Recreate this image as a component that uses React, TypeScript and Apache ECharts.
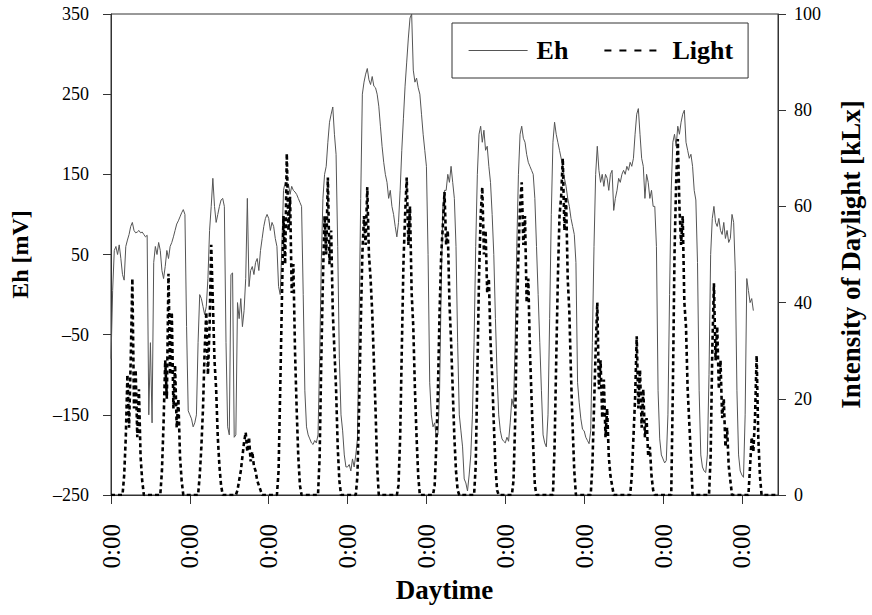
import { useEffect, useRef } from "react";
import * as echarts from "echarts";

// Hourly readings, one row per day (hour 0 = 0:00 of the first day).
const ehValues: number[] = [
  -80, 5, 55, 60, 50, 62, 45, 25, 18, 60, 68, 75, 85, 90, 80, 77, 78, 80, 77, 78, 75, 72, 74, -150,
  -60, -160, 40, 60, 50, 65, 55, 30, 20, 35, 55, 45, 60, 65, 72, 80, 88, 92, 97, 102, 106, 100, -40, -145,
  -150, -155, -165, -160, -150, -60, 0, -5, -15, -25, -15, 20, 80, 110, 145, 110, 90, 100, 110, 118, 120, 110, -60, -165,
  -175, 25, 27, -178, -175, -10, -30, -5, -40, -20, 20, 120, 10, 30, 35, 25, 40, 45, 30, 55, 70, 85, 95, 100,
  95, 80, 90, 85, 70, 60, 10, 0, 60, 130, 140, 135, 138, 125, 135, 130, 128, 125, 120, 115, 110, 0, -120, -165,
  -175, -180, -185, -187, -182, -185, -175, -80, 40, 120, 150, 160, 190, 215, 225, 234, 200, 175, 60, -80, -150, -170, -200, -215,
  -215, -212, -220, -205, -215, -200, -180, -40, 120, 250, 265, 275, 282, 268, 262, 272, 260, 258, 250, 235, 210, 185, 165, 150,
  140, 120, 130, 110, 100, 85, 72, 90, 130, 180, 220, 260, 290, 320, 345, 350, 280, 265, 270, 258, 250, 225, 200, 180,
  160, 50, -110, -150, -165, -160, -178, -175, -120, 10, 110, 130, 130, 150, 140, 160, 140, 120, 60, -60, -150, -170, -190, -230,
  -235, -245, -225, -200, -150, -60, 60, 150, 200, 210, 190, 205, 180, 185, 160, 140, 100, 50, -30, -100, -150, -170, -180, -183,
  -185, -178, -183, -160, -130, -140, -60, 60, 150, 200, 210, 195, 190, 175, 165, 160, 155, 150, 120, 60, 0, -60, -120, -175,
  -185, -190, -150, -30, 100, 190, 215, 200, 190, 180, 170, 160, 145, 135, 120, 110, 95, 85, 75, 40, -110, -135, -155, -168,
  -170, -178, -182, -186, -170, -60, 60, 150, 185, 155, 140, 150, 135, 150, 145, 130, 150, 155, 105, 120, 130, 145, 140, 150,
  155, 150, 160, 155, 165, 160, 170, 200, 225, 232, 200, 170, 160, 120, 150, 140, 120, 130, 110, 110, 60, -120, -180, -200,
  -205, -210, -207, -150, 0, 130, 190, 200, 185, 210, 200, 215, 225, 230, 190, 180, 170, 175, 160, 130, 118, 40, -120, -200,
  -215, -220, -222, -200, -100, 50, 95, 110, 90, 85, 95, 80, 75, 90, 70, 80, 65, 70, 100, 90, 30, -120, -200, -220,
  -225, -228, -150, 20, 5, -10, -5, -20,
];

const lightValues: number[] = [
  0, 0, 0, 0, 0, 0, 0, 0, 4, 12, 25, 14, 28, 45, 18, 26, 12, 22, 8, 3, 0, 0, 0, 0,
  0, 0, 0, 0, 0, 0, 0, 5, 15, 28, 20, 46, 25, 38, 18, 27, 14, 20, 8, 3, 0, 0, 0, 0,
  0, 0, 0, 0, 0, 0, 4, 10, 18, 30, 38, 25, 35, 52, 40, 28, 22, 12, 6, 2, 0, 0, 0, 0,
  0, 0, 0, 0, 0, 1, 3, 5, 8, 11, 13, 9, 12, 7, 9, 6, 5, 3, 2, 1, 0, 0, 0, 0,
  0, 0, 0, 0, 0, 0, 5, 22, 40, 58, 48, 71, 55, 62, 42, 48, 30, 18, 8, 2, 0, 0, 0, 0,
  0, 0, 0, 0, 0, 0, 0, 8, 28, 45, 58, 50, 66, 48, 55, 38, 30, 22, 10, 3, 0, 0, 0, 0,
  0, 0, 0, 0, 0, 0, 4, 18, 35, 50, 58, 52, 64, 50, 45, 38, 28, 18, 6, 0, 0, 0, 0, 0,
  0, 0, 0, 0, 0, 0, 0, 2, 12, 30, 48, 58, 66, 52, 60, 42, 35, 22, 12, 4, 0, 0, 0, 0,
  0, 0, 0, 0, 0, 2, 10, 22, 38, 50, 56, 63, 52, 55, 40, 32, 22, 12, 5, 1, 0, 0, 0, 0,
  0, 0, 0, 0, 0, 0, 6, 25, 45, 58, 64, 50, 55, 42, 45, 32, 25, 15, 6, 1, 0, 0, 0, 0,
  0, 0, 0, 0, 0, 3, 15, 35, 50, 60, 65, 52, 58, 40, 45, 30, 20, 10, 2, 0, 0, 0, 0, 0,
  0, 0, 0, 0, 0, 0, 10, 28, 45, 58, 62, 70, 55, 62, 45, 38, 25, 14, 5, 0, 0, 0, 0, 0,
  0, 0, 0, 0, 0, 6, 18, 30, 40, 22, 28, 16, 24, 12, 18, 8, 4, 2, 0, 0, 0, 0, 0, 0,
  0, 0, 0, 0, 0, 4, 12, 20, 33, 18, 26, 14, 22, 12, 16, 8, 10, 4, 1, 0, 0, 0, 0, 0,
  0, 0, 0, 0, 0, 0, 22, 50, 65, 74, 60, 52, 58, 40, 35, 22, 15, 8, 0, 0, 0, 0, 0, 0,
  0, 0, 0, 0, 0, 8, 30, 44, 28, 35, 22, 28, 16, 20, 10, 14, 6, 3, 0, 0, 0, 0, 0, 0,
  0, 0, 0, 0, 0, 6, 12, 9, 16, 29, 12, 4, 0, 0, 0, 0, 0, 0, 0, 0, 0, 0, 0,
];

// Midnight marks every second day, in hours.
const xTickHours = [0, 48, 96, 144, 192, 240, 288, 336, 384];
const xTickText = "0:00";
const lastHour = 406;

const SERIF = '"Liberation Serif", "Times New Roman", serif';
const AXIS = "#333";

export default function App() {
  const ref = useRef<HTMLDivElement>(null);

  useEffect(() => {
    if (!ref.current) return;
    const chart = echarts.init(ref.current, undefined, { renderer: "svg" });

    const ehData = ehValues.map((v, i) => [i, v]);
    const lightData = lightValues.map((v, i) => [i, v]);

    chart.setOption({
      animation: false,
      grid: {
        left: 111,
        right: 93,
        top: 14,
        bottom: 120,
        show: true,
        borderColor: AXIS,
        borderWidth: 1,
      },
      legend: {
        left: 452,
        top: 23,
        orient: "horizontal",
        itemWidth: 59,
        itemHeight: 14,
        itemGap: 35,
        padding: [14, 15, 14, 16],
        borderColor: AXIS,
        borderWidth: 1,
        itemStyle: { opacity: 0 },
        textStyle: {
          fontFamily: SERIF,
          fontWeight: "bold",
          fontSize: 26,
          color: "#000",
          lineHeight: 27,
          padding: [0, 0, 0, 4],
        },
        data: [
          { name: "Eh", lineStyle: { color: "#555", width: 1.2 } },
          { name: "Light", lineStyle: { type: [7, 8], width: 2, color: "#000" } },
        ],
      },
      xAxis: {
        type: "value",
        min: 0,
        max: lastHour,
        interval: 48,
        splitLine: { show: false },
        axisLine: { show: true, onZero: false, lineStyle: { color: AXIS, width: 1 } },
        axisTick: {
          show: true,
          length: 9,
          customValues: xTickHours,
          lineStyle: { color: AXIS },
        },
        axisLabel: {
          customValues: xTickHours,
          formatter: () => xTickText,
          rotate: 90,
          margin: 29,
          fontFamily: SERIF,
          fontSize: 25,
          color: "#000",
        },
        name: "Daytime",
        nameLocation: "middle",
        nameGap: 75,
        nameTextStyle: {
          fontFamily: SERIF,
          fontWeight: "bold",
          fontSize: 27,
          color: "#000",
        },
      },
      yAxis: [
        {
          type: "value",
          position: "left",
          min: -250,
          max: 350,
          interval: 100,
          splitLine: { show: false },
          axisLine: { show: true, onZero: false, lineStyle: { color: AXIS, width: 1 } },
          axisTick: { show: true, length: 8, lineStyle: { color: AXIS } },
          axisLabel: {
            margin: 22,
            fontFamily: SERIF,
            fontSize: 18,
            color: "#000",
            formatter: (v: number) => (v < 0 ? "\u2013" + Math.abs(v) : String(v)),
          },
          name: "Eh [mV]",
          nameLocation: "middle",
          nameRotate: 90,
          nameGap: 79,
          nameTextStyle: {
            fontFamily: SERIF,
            fontWeight: "bold",
            fontSize: 24,
            color: "#000",
          },
        },
        {
          type: "value",
          position: "right",
          min: 0,
          max: 100,
          interval: 20,
          splitLine: { show: false },
          axisLine: { show: true, onZero: false, lineStyle: { color: AXIS, width: 1 } },
          axisTick: { show: true, length: 8, lineStyle: { color: AXIS } },
          axisLabel: {
            margin: 16,
            fontFamily: SERIF,
            fontSize: 18,
            color: "#000",
          },
          name: "Intensity of Daylight [kLx]",
          nameLocation: "middle",
          nameRotate: 90,
          nameGap: 59,
          nameTextStyle: {
            fontFamily: SERIF,
            fontWeight: "bold",
            fontSize: 27,
            color: "#000",
          },
        },
      ],
      series: [
        {
          name: "Eh",
          type: "line",
          yAxisIndex: 0,
          data: ehData,
          symbol: "none",
          showSymbol: false,
          lineStyle: { color: "#555", width: 1 },
          itemStyle: { color: "#555" },
          z: 2,
        },
        {
          name: "Light",
          type: "line",
          yAxisIndex: 1,
          data: lightData,
          symbol: "none",
          showSymbol: false,
          lineStyle: { color: "#000", width: 2.6, type: [4, 3] },
          itemStyle: { color: "#000" },
          z: 3,
        },
      ],
    });

    return () => chart.dispose();
  }, []);

  return (
    <div
      ref={ref}
      style={{ position: "fixed", left: 0, top: 0, width: 872, height: 615, background: "#fff" }}
    />
  );
}
